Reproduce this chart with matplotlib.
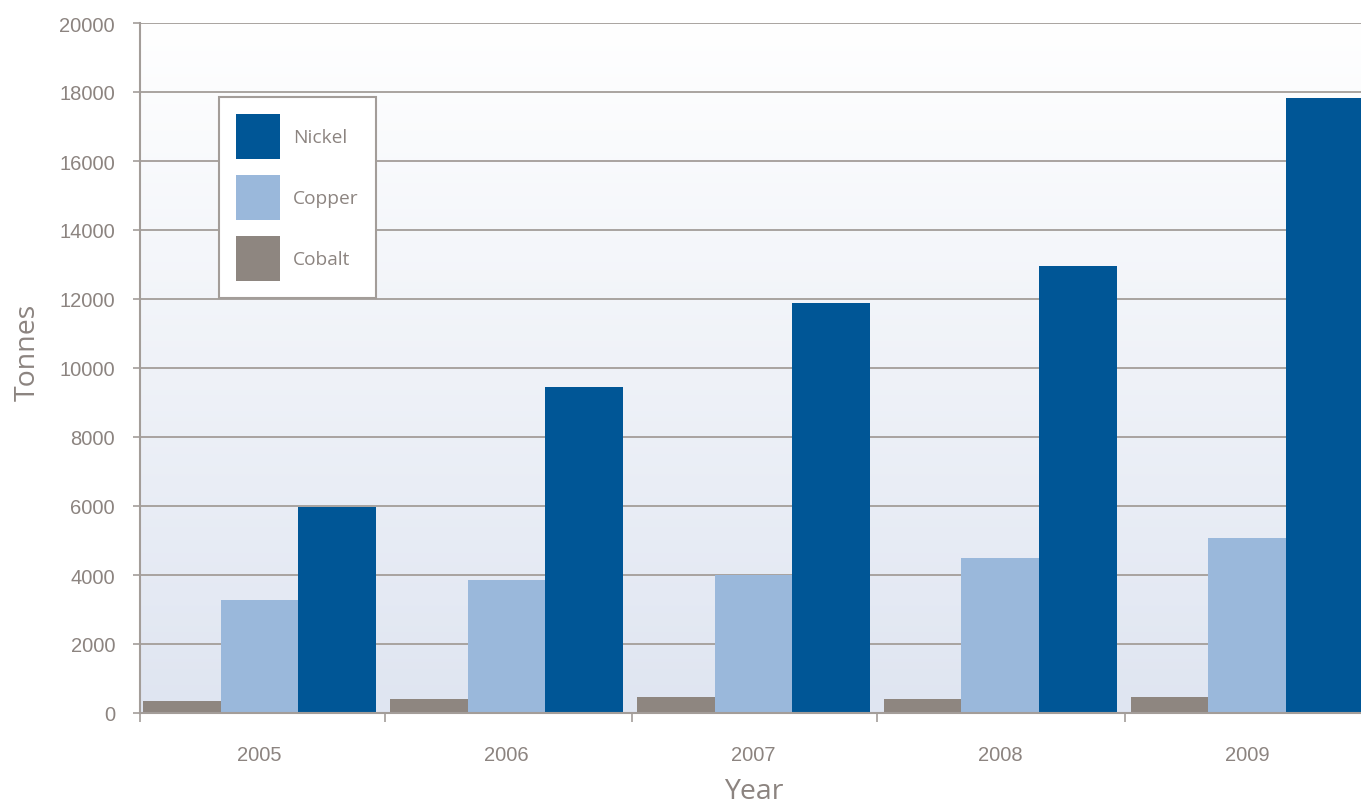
import numpy as np
import matplotlib
matplotlib.use("Agg")
import matplotlib.pyplot as plt
from matplotlib.colors import LinearSegmentedColormap

years = ["2005", "2006", "2007", "2008", "2009"]
nickel = [5970, 9450, 11880, 12960, 17830]
copper = [3280, 3860, 4000, 4490, 5070]
cobalt = [350, 410, 460, 410, 460]
yticks = [0, 2000, 4000, 6000, 8000, 10000, 12000, 14000, 16000, 18000, 20000]

c_nickel = "#005696"
c_copper = "#9ab8db"
c_cobalt = "#8e8680"
txt = "#8c8480"
grid_c = "#a39d99"

fig = plt.figure(figsize=(13.61, 8.04), dpi=100)
ax = fig.add_axes([140/1361, 90/804, 1221/1361, 690/804])

# background gradient
grad = np.linspace(0, 1, 256).reshape(-1, 1)
cmap = LinearSegmentedColormap.from_list("bg", ["#dfe5f1", "#ffffff"])
ax.imshow(grad, extent=[0, 1, 0, 1], transform=ax.transAxes, cmap=cmap,
          aspect="auto", origin="lower", zorder=0)

x = np.arange(len(years))
w = 0.314
ax.bar(x - w, cobalt, w, color=c_cobalt, label="Cobalt", zorder=3)
ax.bar(x, copper, w, color=c_copper, label="Copper", zorder=3)
ax.bar(x + w, nickel, w, color=c_nickel, label="Nickel", zorder=3)

ax.set_xlim(-0.484, 4.461)
ax.set_ylim(0, 20000)
ax.set_yticks(yticks)
ax.set_yticklabels([str(v) for v in yticks])
ax.yaxis.grid(True, color=grid_c, linewidth=1.3, zorder=1)
ax.set_axisbelow(True)

ax.set_xticks(x)
ax.set_xticklabels(years)
ax.set_xticks([-0.484, 0.508, 1.509, 2.50, 3.505], minor=True)
ax.tick_params(axis="x", which="major", length=0, pad=23, labelsize=14.5,
               labelcolor=txt)
ax.tick_params(axis="x", which="minor", length=6.5, width=1.2, color=grid_c,
               direction="out")
ax.tick_params(axis="y", length=5, width=1.2, color=grid_c, pad=13,
               labelsize=14.5, labelcolor=txt)
for lab in ax.get_xticklabels() + ax.get_yticklabels():
    lab.set_fontfamily("Liberation Sans")

for s in ["top", "right"]:
    ax.spines[s].set_visible(False)
for s in ["left", "bottom"]:
    ax.spines[s].set_color(grid_c)
    ax.spines[s].set_linewidth(1.5)
    ax.spines[s].set_zorder(4)

fig.text(754/1361, 1 - 792/804, "Year", ha="center", va="center",
         fontsize=20.5, color=txt, family="Open Sans")
fig.text(28/1361, 1 - 352/804, "Tonnes", ha="center", va="center",
         rotation=90, fontsize=20.5, color=txt, family="Open Sans")

handles, labels = ax.get_legend_handles_labels()
order = [2, 1, 0]
leg = ax.legend([handles[i] for i in order], [labels[i] for i in order],
                loc="upper left", bbox_to_anchor=((219-140)/1221, (714-98)/690),
                borderaxespad=0, fancybox=False, framealpha=1,
                edgecolor="#a39d99", facecolor="white",
                prop={"family": "Open Sans", "size": 13.8},
                handlelength=2.3, handleheight=3.2, handletextpad=0.68,
                labelspacing=0.85, borderpad=0.9)
leg.get_frame().set_linewidth(1.5)
for t in leg.get_texts():
    t.set_color(txt)
leg.set_zorder(5)

fig.savefig("out.png", dpi=100)
